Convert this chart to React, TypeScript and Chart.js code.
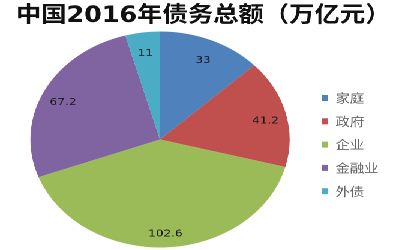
import React, { useEffect, useRef } from "react";
import { Chart, registerables } from "chart.js";

Chart.register(...registerables);

const titleText = "中国2016年债务总额（万亿元）";
const categories = ["家庭", "政府", "企业", "金融业", "外债"];
const values = [33, 41.2, 102.6, 67.2, 11];
const colors = ["#4F81BD", "#C0504D", "#9BBB59", "#8064A2", "#4BACC6"];

const STRETCH = 1.2;

const labelPlugin = {
  id: "sliceLabels",
  afterDatasetsDraw(chart: any) {
    const ctx = chart.ctx;
    const meta = chart.getDatasetMeta(0);
    ctx.save();
    ctx.font = '10px "DejaVu Sans", sans-serif';
    ctx.fillStyle = "#1a1a1a";
    ctx.textAlign = "center";
    ctx.textBaseline = "middle";
    meta.data.forEach((arc: any, i: number) => {
      const p = arc.getProps(["x", "y", "startAngle", "endAngle", "outerRadius"], true);
      const mid = (p.startAngle + p.endAngle) / 2;
      const r = p.outerRadius * 0.84;
      ctx.fillText(String(values[i]), p.x + Math.cos(mid) * r, p.y + Math.sin(mid) * r + 4);
    });
    ctx.restore();
  },
};

export default function App() {
  const canvasRef = useRef<HTMLCanvasElement>(null);

  useEffect(() => {
    if (!canvasRef.current) return;
    const chart = new Chart(canvasRef.current, {
      type: "pie",
      data: {
        labels: categories,
        datasets: [
          {
            data: values,
            backgroundColor: colors,
            borderWidth: 0,
          },
        ],
      },
      options: {
        animation: false,
        responsive: true,
        maintainAspectRatio: false,
        devicePixelRatio: 2,
        layout: { padding: { left: 13.2, right: 7.8, top: 0, bottom: 2.5 } },
        plugins: {
          title: {
            display: true,
            text: titleText,
            color: "#111",
            font: {
              family: '"DejaVu Sans", "Noto Sans CJK SC", sans-serif',
              size: 22,
              weight: "bold",
            },
            padding: { top: 3, bottom: 2.1 },
          },
          legend: {
            position: "right",
            fullSize: false,
            title: {
              display: true,
              text: "",
              padding: 0,
              font: { size: 6, lineHeight: "7px" },
            },
            labels: {
              boxWidth: 5.5,
              boxHeight: 6,
              padding: 14.5,
              color: "#222",
              font: {
                family: '"Noto Sans CJK SC", sans-serif',
                size: 12,
                lineHeight: "8.8px",
              },
              generateLabels: () =>
                categories.map((c, i) => ({
                  text: [c] as any,
                  fillStyle: colors[i],
                  strokeStyle: colors[i],
                  lineWidth: 0,
                  hidden: false,
                  index: i,
                })),
            },
          },
          tooltip: { enabled: false },
        },
      },
      plugins: [labelPlugin],
    });
    return () => chart.destroy();
  }, []);

  return (
    <div
      style={{
        position: "absolute",
        left: 0,
        top: 0,
        width: `${400 / STRETCH}px`,
        height: "250px",
        transform: `scaleX(${STRETCH})`,
        transformOrigin: "0 0",
        background: "#fff",
      }}
    >
      <canvas ref={canvasRef} />
    </div>
  );
}
